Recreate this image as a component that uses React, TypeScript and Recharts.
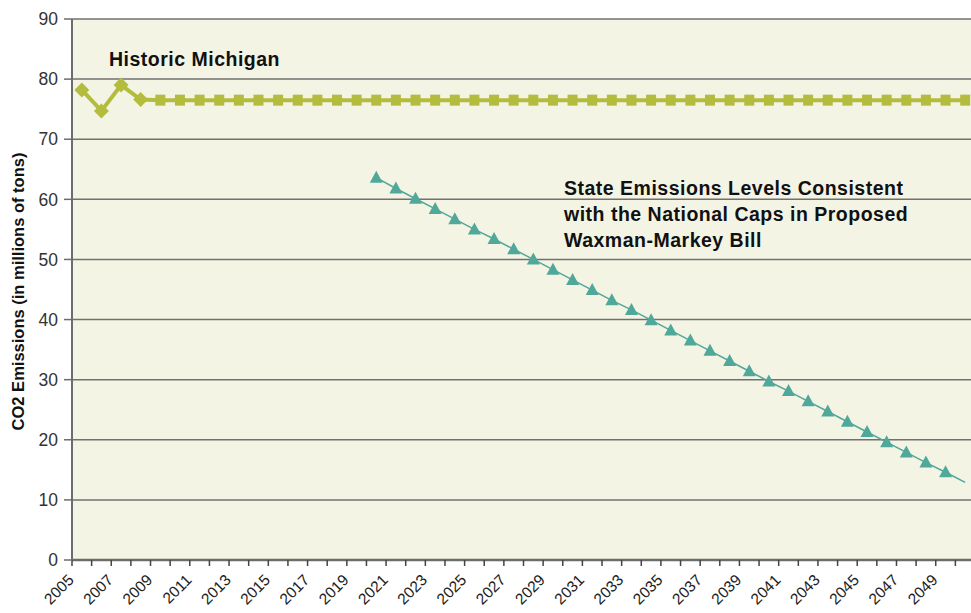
import { LineChart, Line, XAxis, YAxis, CartesianGrid } from 'recharts';

// categories
const YEARS = [
  2005, 2006, 2007, 2008, 2009, 2010, 2011, 2012, 2013, 2014, 2015, 2016,
  2017, 2018, 2019, 2020, 2021, 2022, 2023, 2024, 2025, 2026, 2027, 2028,
  2029, 2030, 2031, 2032, 2033, 2034, 2035, 2036, 2037, 2038, 2039, 2040,
  2041, 2042, 2043, 2044, 2045, 2046, 2047, 2048, 2049, 2050,
];

// Historic Michigan (2005-2008 actual, then held flat)
const HISTORIC = [
  78.2, 74.7, 79.0, 76.6, 76.5, 76.5, 76.5, 76.5, 76.5, 76.5, 76.5, 76.5,
  76.5, 76.5, 76.5, 76.5, 76.5, 76.5, 76.5, 76.5, 76.5, 76.5, 76.5, 76.5,
  76.5, 76.5, 76.5, 76.5, 76.5, 76.5, 76.5, 76.5, 76.5, 76.5, 76.5, 76.5,
  76.5, 76.5, 76.5, 76.5, 76.5, 76.5, 76.5, 76.5, 76.5, 76.5,
];

// State levels under Waxman-Markey caps
const WAXMAN = [
  null, null, null, null, null, null, null, null, null, null, null, null,
  null, null, null, 63.6, 61.8, 60.1, 58.4, 56.7, 55.0, 53.4, 51.7, 50.0,
  48.3, 46.6, 44.9, 43.2, 41.6, 39.9, 38.2, 36.5, 34.8, 33.1, 31.4, 29.7,
  28.1, 26.4, 24.7, 23.0, 21.3, 19.6, 17.9, 16.2, 14.6, 12.9,
];

const LABEL_YEARS = [
  2005, 2007, 2009, 2011, 2013, 2015, 2017, 2019, 2021, 2023, 2025, 2027,
  2029, 2031, 2033, 2035, 2037, 2039, 2041, 2043, 2045, 2047, 2049,
];

const Y_TICKS = [0, 10, 20, 30, 40, 50, 60, 70, 80, 90];

const data = YEARS.map((year, i) => ({
  year,
  historic: HISTORIC[i],
  waxman: WAXMAN[i],
}));

// tick marks sit on the boundaries between years
const BOUNDARIES = [...YEARS.map((y) => y - 0.5), YEARS[YEARS.length - 1] + 0.5];

const CHART_W = 980;
const CHART_H = 613;
const Y_AXIS_W = 72;
const MARGIN = { top: 19, right: 5, left: 0, bottom: 0 };
const HALF_STEP = (CHART_W - MARGIN.right - Y_AXIS_W) / YEARS.length / 2;

const OLIVE = '#b4bc3e';
const TEAL = '#4fa89a';
const FONT = '"Liberation Sans", Arial, sans-serif';

function XTick(props: any) {
  const { x, y, payload } = props;
  const year = payload.value + 0.5;
  if (!LABEL_YEARS.includes(year)) return null;
  const lx = x + HALF_STEP - 7;
  const ly = y + 15;
  return (
    <text
      x={lx}
      y={ly}
      transform={`rotate(-45 ${lx} ${ly})`}
      textAnchor="end"
      style={{ fontSize: 15.5, fontFamily: FONT }}
      fill="#222"
    >
      {year}
    </text>
  );
}

function HistoricDot(props: any) {
  const { cx, cy, payload } = props;
  if (cx == null || cy == null) return null;
  if (payload.year <= 2008) {
    const r = 7.5;
    return (
      <polygon
        points={`${cx},${cy - r} ${cx + r},${cy} ${cx},${cy + r} ${cx - r},${cy}`}
        fill={OLIVE}
      />
    );
  }
  return <rect x={cx - 5} y={cy - 5.5} width={10} height={11} fill={OLIVE} />;
}

function TriangleDot(props: any) {
  const { cx, cy, payload } = props;
  if (cx == null || cy == null || payload.waxman == null || payload.year >= 2050) return null;
  return (
    <polygon
      points={`${cx},${cy - 7} ${cx + 6.5},${cy + 5} ${cx - 6.5},${cy + 5}`}
      fill={TEAL}
    />
  );
}

function YTitle(props: any) {
  const { viewBox } = props;
  const cx = 18;
  const cy = viewBox.y + viewBox.height / 2 + 2;
  return (
    <text
      x={cx}
      y={cy}
      transform={`rotate(-90 ${cx} ${cy})`}
      textAnchor="middle"
      dominantBaseline="central"
      style={{ fontSize: 16.5, fontWeight: 'bold', fontFamily: FONT }}
      fill="#111"
    >
      CO2 Emissions (in millions of tons)
    </text>
  );
}

const noteStyle: React.CSSProperties = {
  position: 'absolute',
  fontFamily: FONT,
  fontWeight: 'bold',
  fontSize: 19.5,
  letterSpacing: 0.5,
  lineHeight: '26px',
  color: '#111',
  whiteSpace: 'nowrap',
};

export default function App() {
  return (
    <div
      style={{
        position: 'absolute',
        left: 0,
        top: 0,
        width: 971,
        height: 613,
        overflow: 'hidden',
        background: '#fff',
      }}
    >
      <LineChart width={CHART_W} height={CHART_H} data={data} margin={MARGIN}>
        <CartesianGrid
          vertical={false}
          fill="#f4f4e5"
          stroke="#707070"
          strokeWidth={1.5}
        />
        <XAxis
          dataKey="year"
          type="number"
          domain={[BOUNDARIES[0], BOUNDARIES[BOUNDARIES.length - 1]]}
          ticks={BOUNDARIES}
          interval={0}
          height={53}
          tickSize={6}
          tickMargin={0}
          tick={<XTick />}
          stroke="#6c6c6c"
          axisLine={{ stroke: '#6c6c6c', strokeWidth: 2.5 }}
          tickLine={{ stroke: '#444', strokeWidth: 1.5 }}
          allowDataOverflow
        />
        <YAxis
          domain={[0, 90]}
          ticks={Y_TICKS}
          width={Y_AXIS_W}
          tickSize={8}
          tickMargin={6}
          tick={{ fontSize: 17.5, fill: '#333', fontFamily: FONT }}
          axisLine={{ stroke: '#6c6c6c', strokeWidth: 2 }}
          tickLine={{ stroke: '#6c6c6c', strokeWidth: 1.5 }}
          label={<YTitle />}
        />
        <Line
          dataKey="historic"
          stroke={OLIVE}
          strokeWidth={4}
          dot={<HistoricDot />}
          activeDot={false}
          isAnimationActive={false}
        />
        <Line
          dataKey="waxman"
          stroke={TEAL}
          strokeWidth={1.5}
          dot={<TriangleDot />}
          activeDot={false}
          connectNulls={false}
          isAnimationActive={false}
        />
      </LineChart>
      <div style={{ ...noteStyle, left: 109, top: 46 }}>Historic Michigan</div>
      <div style={{ ...noteStyle, left: 564, top: 175 }}>
        State Emissions Levels Consistent
        <br />
        with the National Caps in Proposed
        <br />
        Waxman-Markey Bill
      </div>
    </div>
  );
}
